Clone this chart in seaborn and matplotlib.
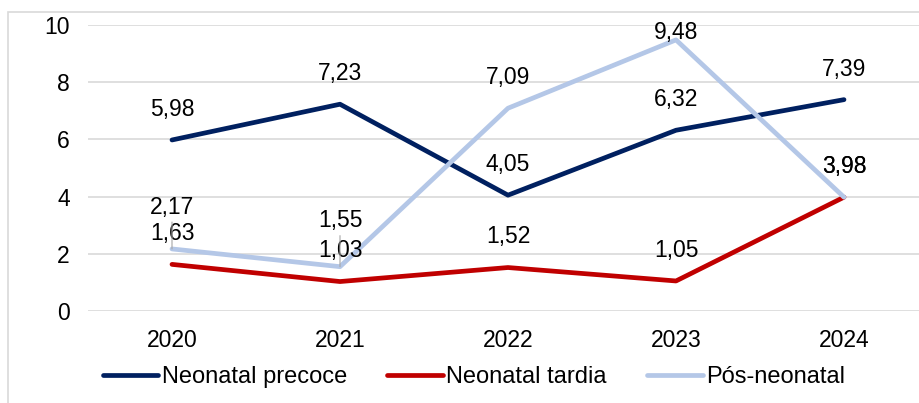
# ----------------------------------------------------------------------------------------
# ----- libraries
# ----------------------------------------------------------------------------------------
import matplotlib
matplotlib.use("Agg")
import matplotlib.pyplot as plt
from matplotlib.patches import Rectangle
import pandas as pd
import seaborn as sns

# ----------------------------------------------------------------------------------------
# ----- data
# ----------------------------------------------------------------------------------------
anos = ["2020", "2021", "2022", "2023", "2024"]
neonatal_precoce = [5.98, 7.23, 4.05, 6.32, 7.39]
neonatal_tardia = [1.63, 1.03, 1.52, 1.05, 3.98]
pos_neonatal = [2.17, 1.55, 7.09, 9.48, 3.98]

series = ["Neonatal precoce", "Neonatal tardia", "Pós-neonatal"]
cores = ["#002060", "#C00000", "#B4C7E7"]

# ----------------------------------------------------------------------------------------
# ----- main
# ----------------------------------------------------------------------------------------
def draw():
    df = pd.DataFrame({
        "ano": anos * 3,
        "valor": neonatal_precoce + neonatal_tardia + pos_neonatal,
        "serie": [s for s in series for _ in anos],
    })

    sns.set_theme(style="white")
    plt.rcParams["font.family"] = ["Liberation Sans", "DejaVu Sans"]
    plt.rcParams["text.color"] = "black"

    fig = plt.figure(figsize=(9.19, 4.03), dpi=100)
    ax = fig.add_axes([88 / 919, 1 - 311 / 403, 840 / 919, 286 / 403])

    sns.lineplot(data=df, x="ano", y="valor", hue="serie", hue_order=series,
                 palette=cores, linewidth=3.4, ax=ax, sort=False,
                 solid_capstyle="round", solid_joinstyle="round")

    ax.set_xlim(-0.5, 4.5)
    ax.set_ylim(0, 10)
    ax.set_yticks(range(0, 11, 2))
    ax.yaxis.grid(True, color="#D9D9D9", linewidth=1.2)
    ax.set_axisbelow(True)
    for sp in ax.spines.values():
        sp.set_visible(False)
    ax.tick_params(axis="both", length=0, labelsize=16.5, colors="black", pad=13)
    ax.set_xlabel("")
    ax.set_ylabel("")

    # data labels (a few were moved by hand in the original)
    deslocar = {("Pós-neonatal", 0): 30, ("Pós-neonatal", 1): 33, ("Pós-neonatal", 3): 5}
    for nome, vals in zip(series, [neonatal_precoce, neonatal_tardia, pos_neonatal]):
        for i, v in enumerate(vals):
            dy = deslocar.get((nome, i), 22)
            seta = None
            if (nome, i) in deslocar and dy > 25:
                seta = dict(arrowstyle="-", color="#A6A6A6", lw=0.8, shrinkA=0, shrinkB=0)
            ax.annotate(f"{v:.2f}".replace(".", ","), xy=(i, v),
                        xytext=(0, dy), textcoords="offset points",
                        ha="center", va="center", fontsize=16.5, color="black",
                        arrowprops=seta, annotation_clip=False)

    ax.legend_.remove()
    handles, labels = ax.get_legend_handles_labels()
    leg = fig.legend(handles, labels, loc="center",
                     bbox_to_anchor=(474 / 919, 1 - 377 / 403),
                     ncol=3, frameon=False, fontsize=17, handlelength=2.35,
                     handletextpad=0.15, columnspacing=1.7)
    for h in leg.get_lines():
        h.set_linewidth(3.4)
        h.set_solid_capstyle("round")
    for t in leg.get_texts():
        t.set_color("black")

    # outer frame of the chart area
    fig.patches.append(Rectangle((8 / 919, -0.05), 1.1, 1 - 12 / 403 + 0.05,
                                 transform=fig.transFigure, fill=False,
                                 edgecolor="#D9D9D9", linewidth=1.2))

    fig.savefig("out.png", dpi=100)


# ----------------------------------------------------------------------------------------
# ----- start
# ----------------------------------------------------------------------------------------
if __name__ == "__main__":
    draw()
